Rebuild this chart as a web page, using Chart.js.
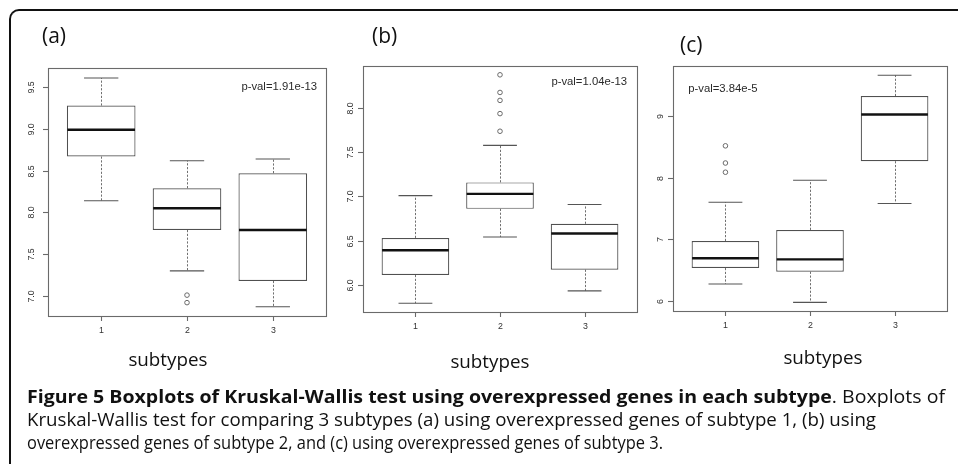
<!DOCTYPE html>
<html><head><meta charset="utf-8">
<script src="https://cdn.jsdelivr.net/npm/chart.js@4.4.1/dist/chart.umd.min.js"></script>
<style>
html,body{margin:0;padding:0;background:#fff;}
body{width:958px;height:464px;position:relative;overflow:hidden;font-family:"Open Sans",sans-serif;}
.frame{position:absolute;left:9px;top:9px;width:1100px;height:700px;border-top:2px solid #111;border-left:2px solid #111;border-top-left-radius:10px;}
canvas{position:absolute;left:0;top:0;}
.lbl{position:absolute;line-height:1;white-space:nowrap;color:#111;}
.fit{display:inline-block;transform-origin:0 0;}
.sub{display:inline-block;transform-origin:50% 0;}
</style></head><body>
<div class="frame"></div>
<canvas id="ca" width="958" height="464"></canvas>
<canvas id="cb" width="958" height="464"></canvas>
<canvas id="cc" width="958" height="464"></canvas>
<div class="lbl" style="left:42px;top:25px;font-size:21px;">(a)</div>
<div class="lbl" style="left:372px;top:25px;font-size:21px;">(b)</div>
<div class="lbl" style="left:680px;top:34px;font-size:21px;">(c)</div>
<div class="lbl" style="left:108px;width:120px;text-align:center;top:350px;font-size:18px;"><span class="sub" data-w="79">subtypes</span></div>
<div class="lbl" style="left:430px;width:120px;text-align:center;top:352px;font-size:18px;"><span class="sub" data-w="79">subtypes</span></div>
<div class="lbl" style="left:763px;width:120px;text-align:center;top:348px;font-size:18px;"><span class="sub" data-w="79">subtypes</span></div>
<div class="lbl" style="left:27px;top:387px;font-size:18px;"><span class="fit" data-w="918"><b>Figure 5 Boxplots of Kruskal-Wallis test using overexpressed genes in each subtype</b>. Boxplots of</span></div>
<div class="lbl" style="left:27px;top:410px;font-size:18px;"><span class="fit" data-w="849">Kruskal-Wallis test for comparing 3 subtypes (a) using overexpressed genes of subtype 1, (b) using</span></div>
<div class="lbl" style="left:27px;top:433px;font-size:18px;"><span class="fit" data-w="636">overexpressed genes of subtype 2, and (c) using overexpressed genes of subtype 3.</span></div>
<script>
// ---- data ----
const categories = ['1', '2', '3'];
const categoryX = [1, 2, 3];

// panel (a): overexpressed genes of subtype 1
const aLowerWhisker = [8.14, 7.30, 6.87];
const aQ1 = [8.67, 7.79, 7.18];
const aMedian = [8.99, 8.05, 7.79];
const aQ3 = [9.28, 8.29, 8.47];
const aUpperWhisker = [9.61, 8.62, 8.64];
const aOutliers = [[], [7.01, 6.92], []];
const aYTicks = [7.0, 7.5, 8.0, 8.5, 9.0, 9.5];
const aYTickLabels = ['7.0', '7.5', '8.0', '8.5', '9.0', '9.5'];
const aPval = 'p-val=1.91e-13';

// panel (b): overexpressed genes of subtype 2
const bLowerWhisker = [5.79, 6.54, 5.93];
const bQ1 = [6.11, 6.86, 6.17];
const bMedian = [6.39, 7.03, 6.58];
const bQ3 = [6.53, 7.16, 6.69];
const bUpperWhisker = [7.01, 7.58, 6.91];
const bOutliers = [[], [8.38, 8.18, 8.09, 7.94, 7.74], []];
const bYTicks = [6.0, 6.5, 7.0, 7.5, 8.0];
const bYTickLabels = ['6.0', '6.5', '7.0', '7.5', '8.0'];
const bPval = 'p-val=1.04e-13';

// panel (c): overexpressed genes of subtype 3
const cLowerWhisker = [6.27, 5.97, 7.58];
const cQ1 = [6.53, 6.47, 8.27];
const cMedian = [6.69, 6.67, 9.03];
const cQ3 = [6.97, 7.15, 9.33];
const cUpperWhisker = [7.60, 7.96, 9.67];
const cOutliers = [[8.52, 8.24, 8.09], [], []];
const cYTicks = [6, 7, 8, 9];
const cYTickLabels = ['6', '7', '8', '9'];
const cPval = 'p-val=3.84e-5';

// ---- drawing ----
const boxPlugin = {
  id: 'boxParts',
  beforeDatasetsDraw(chart) {
    const p = chart.options.plugins.boxParts;
    const xs = chart.scales.x, ys = chart.scales.y, ctx = chart.ctx;
    const unit = xs.getPixelForValue(2) - xs.getPixelForValue(1);
    ctx.save();
    p.x.forEach((xv, i) => {
      const cx = xs.getPixelForValue(xv);
      const seg = (a, b) => {
        ctx.setLineDash([2.2, 1.6]);
        ctx.strokeStyle = '#707070'; ctx.lineWidth = 1;
        ctx.beginPath(); ctx.moveTo(Math.round(cx) + 0.5, ys.getPixelForValue(a));
        ctx.lineTo(Math.round(cx) + 0.5, ys.getPixelForValue(b)); ctx.stroke();
        ctx.setLineDash([]);
        ctx.strokeStyle = '#555'; ctx.lineWidth = 1.1;
        const yy = ys.getPixelForValue(b);
        ctx.beginPath(); ctx.moveTo(cx - unit * 0.2, yy); ctx.lineTo(cx + unit * 0.2, yy); ctx.stroke();
      };
      seg(p.q3[i], p.hi[i]);
      seg(p.q1[i], p.lo[i]);
    });
    ctx.restore();
  },
  afterDatasetsDraw(chart) {
    const p = chart.options.plugins.boxParts;
    const xs = chart.scales.x, ys = chart.scales.y, ctx = chart.ctx;
    const a = chart.chartArea;
    const unit = xs.getPixelForValue(2) - xs.getPixelForValue(1);
    ctx.save();
    // medians
    ctx.strokeStyle = '#111'; ctx.lineWidth = 2.4;
    p.x.forEach((xv, i) => {
      const cx = xs.getPixelForValue(xv), y = ys.getPixelForValue(p.med[i]);
      ctx.beginPath(); ctx.moveTo(cx - unit * 0.4 + 0.5, y); ctx.lineTo(cx + unit * 0.4 - 0.5, y); ctx.stroke();
    });
    // frame
    ctx.strokeStyle = '#6a6a6a'; ctx.lineWidth = 1.1;
    ctx.strokeRect(a.left + 0.5, a.top + 0.5, a.right - a.left, a.bottom - a.top);
    // y ticks
    ctx.fillStyle = '#333';
    ctx.font = '8.8px "Liberation Sans", Arial, sans-serif';
    ctx.textAlign = 'center'; ctx.textBaseline = 'middle';
    p.yTicks.forEach((v, i) => {
      const y = Math.round(ys.getPixelForValue(v)) + 0.5;
      ctx.beginPath(); ctx.moveTo(a.left - 5, y); ctx.lineTo(a.left, y); ctx.stroke();
      ctx.save(); ctx.translate(a.left - p.yLabelOffset, y); ctx.rotate(-Math.PI / 2);
      ctx.fillText(p.yLabels[i], 0, 0); ctx.restore();
    });
    // x ticks
    p.x.forEach((xv, i) => {
      const x = Math.round(xs.getPixelForValue(xv)) + 0.5;
      ctx.beginPath(); ctx.moveTo(x, a.bottom); ctx.lineTo(x, a.bottom + 5); ctx.stroke();
      ctx.fillText(p.xLabels[i], x, a.bottom + 15);
    });
    // p-value
    ctx.fillStyle = '#2a2a2a';
    ctx.font = '11.3px "Liberation Sans", Arial, sans-serif';
    ctx.fillText(p.pval, xs.getPixelForValue(p.pvalAt[0]), ys.getPixelForValue(p.pvalAt[1]));
    ctx.restore();
  }
};

function makePanel(id, area, yRange, lo, q1, med, q3, hi, outl, yTicks, yLabels, pval, pvalAt, yLabelOffset) {
  const outPts = [];
  outl.forEach((list, i) => list.forEach(v => outPts.push({ x: categoryX[i], y: v })));
  return new Chart(document.getElementById(id), {
    type: 'bar',
    data: {
      datasets: [
        {
          type: 'bar',
          data: categoryX.map((x, i) => ({ x: x, y: [q1[i], q3[i]] })),
          backgroundColor: '#ffffff', borderColor: '#505050', borderWidth: 1.2,
          borderSkipped: false, categoryPercentage: 1, barPercentage: 0.8, order: 2
        },
        {
          type: 'scatter', data: outPts,
          pointStyle: 'circle', pointRadius: 2.3, pointBorderWidth: 1,
          pointBorderColor: '#6a6a6a', pointBackgroundColor: 'rgba(0,0,0,0)', order: 1
        }
      ]
    },
    options: {
      responsive: false, animation: false, events: [],
      layout: { padding: { left: area[0], top: area[2], right: 958 - area[1], bottom: 464 - area[3] } },
      plugins: {
        legend: { display: false }, tooltip: { enabled: false },
        boxParts: { x: categoryX, xLabels: categories, lo: lo, q1: q1, med: med, q3: q3, hi: hi,
          yTicks: yTicks, yLabels: yLabels, pval: pval, pvalAt: pvalAt, yLabelOffset: yLabelOffset }
      },
      scales: {
        x: { type: 'linear', min: 0.38, max: 3.62, display: false, offset: false,
             afterBuildTicks: s => { s.ticks = categoryX.map(v => ({ value: v })); } },
        y: { type: 'linear', min: yRange[0], max: yRange[1], display: false,
             afterBuildTicks: s => { s.ticks = yTicks.map(v => ({ value: v })); } }
      }
    },
    plugins: [boxPlugin]
  });
}

makePanel('ca', [48, 326, 68, 316], [6.76, 9.73], aLowerWhisker, aQ1, aMedian, aQ3, aUpperWhisker, aOutliers, aYTicks, aYTickLabels, aPval, [3.075, 9.5], 16);
makePanel('cb', [363, 637, 66, 312], [5.69, 8.48], bLowerWhisker, bQ1, bMedian, bQ3, bUpperWhisker, bOutliers, bYTicks, bYTickLabels, bPval, [3.055, 8.30], 12);
makePanel('cc', [673, 947, 66, 311], [5.83, 9.82], cLowerWhisker, cQ1, cMedian, cQ3, cUpperWhisker, cOutliers, cYTicks, cYTickLabels, cPval, [0.97, 9.45], 12);

function fitText() {
  document.querySelectorAll('.fit, .sub').forEach(el => {
    el.style.transform = 'none';
    const w = el.getBoundingClientRect().width;
    el.style.transform = 'scaleX(' + (+el.dataset.w / w) + ')';
  });
}
fitText();
if (document.fonts && document.fonts.ready) document.fonts.ready.then(fitText);
</script>
</body></html>
